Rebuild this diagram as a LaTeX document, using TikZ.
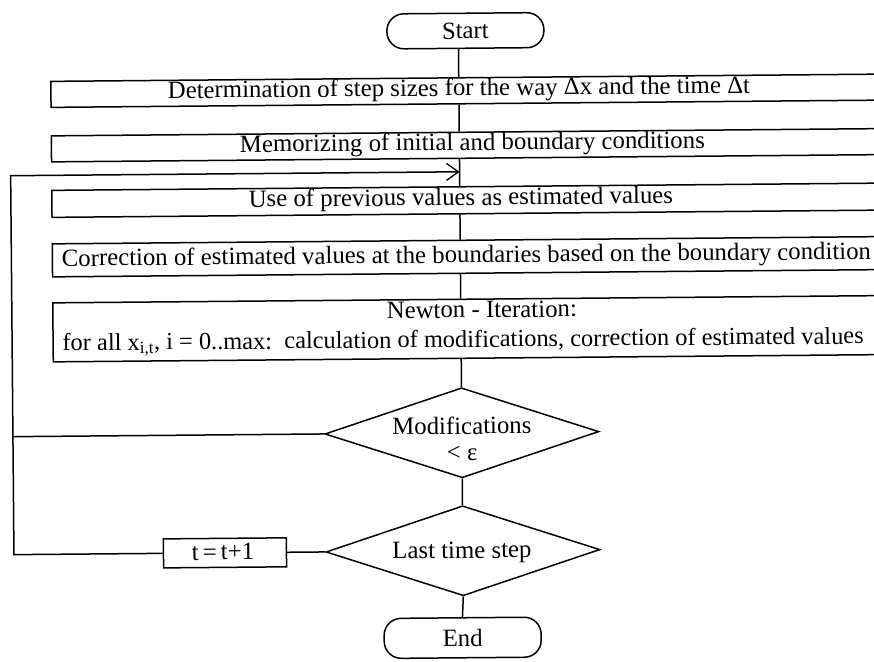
\documentclass[tikz,border=0pt]{standalone}
\usepackage{fontspec}
\setmainfont{Liberation Serif}
\usetikzlibrary{shapes.geometric,arrows.meta}
\begin{document}
\begin{tikzpicture}[x=1pt,y=-1pt,line width=1.5pt,
  box/.style={draw, minimum height=#1, minimum width=847pt, inner sep=0pt},
  txt/.style={inner sep=0pt, anchor=base, font=\fontsize{24.8}{24}\selectfont},
  dec/.style={draw, diamond, minimum width=274pt, minimum height=90pt, inner sep=0pt, aspect=3.04},
  term/.style={draw, rounded corners=17pt, minimum width=157pt, minimum height=#1, inner sep=0pt, font=\fontsize{24.8}{25}\selectfont},
  small/.style={draw, minimum width=123pt, minimum height=29pt, inner sep=0pt}]
\fill[white] (0,0) rectangle (874,661);
\useasboundingbox (0,0) rectangle (874,661);
\clip (0,0) rectangle (874,661);
\begin{scope}[rotate around={0.5:(437,330)}, transform shape]
\coordinate (ax) at (461,0);
\coordinate (lt) at (12,172);
\coordinate (jn) at (461,172);
\node[term=35pt] (start) at (468,31) {Start};
\node[box=26pt] (b1) at (476.5,91) {};
\node[txt] (t1) at (461,96) {Determination of step sizes for the way Δx and the time Δt};
\node[box=26pt] (b2) at (476.5,145.5) {};
\node[txt] (t2) at (474,150.5) {Memorizing of initial and boundary conditions};
\node[box=27pt] (b3) at (476.5,200.5) {};
\node[txt] (t3) at (462,205.5) {Use of previous values as estimated values};
\node[box=33pt] (b4) at (476.5,257) {};
\node[txt] (t4) at (467,263) {Correction of estimated values at the boundaries based on the boundary condition};
\node[box=59pt] (b5) at (476.5,329) {};
\node[txt] (t5a) at (482,318) {Newton - Iteration:};
\node[txt, font=\fontsize{24.4}{24}\selectfont] (t5b) at (463,347.5) {for all x\textsubscript{i,t}, i = 0..max:\ \ calculation of modifications, correction of estimated values};
\node[dec] (d1) at (461,433) {};
\node[inner sep=0pt, align=center, font=\fontsize{24.8}{26.5}\selectfont] (t6) at (461,439) {Modifications\\< ε};
\node[dec] (d2) at (461,551) {};
\node[txt] (t7) at (460,558.5) {Last time step};
\node[small] (tb) at (223,551) {};
\node[txt] (t8) at (221,558) {t\,=\,t+1};
\node[term=40pt] (end) at (460,638) {End};
\draw (start.south -| ax) -- (b1.north -| ax);
\draw (b1.south -| ax) -- (b2.north -| ax);
\draw (b2.south -| ax) -- (b3.north -| ax);
\draw (b3.south -| ax) -- (b4.north -| ax);
\draw (b4.south -| ax) -- (b5.north -| ax);
\draw (b5.south -| ax) -- (d1.north);
\draw (d1.south) -- (d2.north);
\draw (d2.south) -- (end.north);
\draw (d1.west) -- (lt |- d1.west);
\draw (d2.west) -- (tb.east);
\draw[-{Straight Barb[length=12pt,width=17pt,line width=1.3pt]}] (tb.west) -- (lt |- tb.west) -- (lt) -- (jn);
\end{scope}
\end{tikzpicture}
\end{document}
